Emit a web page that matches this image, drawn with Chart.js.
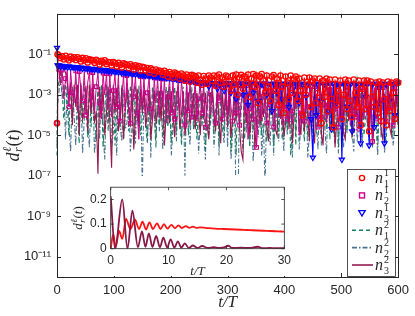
<!DOCTYPE html>
<html><head><meta charset="utf-8">
<script src="https://cdn.jsdelivr.net/npm/chart.js@4.4.1/dist/chart.umd.min.js"></script>
<style>
html,body{margin:0;padding:0;background:#fff;}
#wrap{position:relative;width:415px;height:316px;overflow:hidden;}
#main{position:absolute;left:0;top:0;}
#inset{position:absolute;left:66px;top:176px;}
</style></head><body>
<div id="wrap"><canvas id="main" width="415" height="316"></canvas><canvas id="inset" width="230" height="100"></canvas></div>
<script>
// ---------- DATA ----------
const times = [0,1,
 3,6,9,12,15,18,21,24,27,30,
 33,36,39,42,45,48,51,54,57,60,
 63,66,69,72,75,78,81,84,87,90,
 93,96,99,102,105,108,111,114,117,120,
 123,126,129,132,135,138,141,144,147,150,
 153,156,159,162,165,168,171,174,177,180,
 183,186,189,192,195,198,201,204,207,210,
 213,216,219,222,225,228,231,234,237,240,
 243,246,249,252,255,258,261,264,267,270,
 273,276,279,282,285,288,291,294,297,300,
 303,306,309,312,315,318,321,324,327,330,
 333,336,339,342,345,348,351,354,357,360,
 363,366,369,372,375,378,381,384,387,390,
 393,396,399,402,405,408,411,414,417,420,
 423,426,429,432,435,438,441,444,447,450,
 453,456,459,462,465,468,471,474,477,480,
 483,486,489,492,495,498,501,504,507,510,
 513,516,519,522,525,528,531,534,537,540,
 543,546,549,552,555,558,561,564,567,570,
 573,576,579,582,585,588,591,594,597,600];

// log10 of each series value at the times above
const n11Exp = [-4.4,-1.0,
 -1.05,-1.18,-1.1,-1.25,-1.08,-1.2,-1.3,-1.12,-1.22,-1.15,
 -1.28,-1.15,-1.22,-1.35,-1.18,-1.3,-1.2,-1.4,-1.25,-1.28,
 -1.3,-1.42,-1.27,-1.35,-1.5,-1.32,-1.4,-1.3,-1.48,-1.38,
 -1.4,-1.55,-1.38,-1.45,-1.6,-1.42,-1.52,-1.65,-1.45,-1.5,
 -1.52,-1.68,-1.5,-1.6,-1.75,-1.55,-1.65,-1.58,-1.8,-1.62,
 -1.65,-1.8,-1.68,-1.9,-1.7,-1.78,-1.95,-1.75,-1.85,-1.8,
 -1.85,-2.0,-1.82,-1.92,-2.1,-1.88,-1.98,-2.15,-1.9,-1.95,
 -2.0,-2.2,-1.95,-2.05,-2.3,-2.0,-2.12,-2.35,-2.02,-2.05,
 -2.1,-2.4,-2.05,-2.25,-2.5,-2.08,-2.2,-2.45,-2.05,-2.15,
 -2.3,-2.05,-2.55,-2.1,-2.0,-2.4,-2.15,-2.6,-2.05,-2.1,
 -2.35,-2.8,-2.05,-2.5,-2.0,-3.0,-2.15,-2.02,-2.7,-2.1,
 -2.4,-2.0,-3.1,-2.2,-1.98,-2.6,-2.05,-3.4,-2.1,-1.98,
 -2.3,-2.9,-2.05,-2.6,-3.3,-2.1,-2.03,-2.8,-2.2,-3.5,
 -2.05,-2.6,-3.9,-2.1,-2.4,-3.2,-2.05,-2.9,-2.2,-2.1,
 -3.3,-2.2,-2.8,-4.0,-2.15,-3.0,-2.5,-2.15,-3.6,-2.3,
 -2.2,-3.4,-2.9,-2.2,-4.4,-2.3,-3.1,-2.2,-3.8,-2.25,
 -3.2,-4.6,-2.25,-3.5,-2.8,-2.3,-4.2,-3.0,-2.25,-3.7,
 -2.3,-3.3,-4.1,-2.25,-2.9,-3.6,-2.3,-4.5,-2.7,-2.3,
 -3.7,-2.3,-4.8,-2.35,-3.1,-3.6,-2.4,-3.9,-2.35,-4.3,
 -2.4,-3.2,-4.5,-2.35,-3.8,-2.4,-2.9,-4.2,-2.35,-2.4];
const n21Exp = [-4.4,-1.8,
 -1.75,-2.5,-1.78,-3.2,-2.2,-1.8,-3.6,-1.82,-2.9,-3.4,
 -1.82,-3.8,-1.85,-2.7,-3.3,-1.86,-4.0,-2.4,-1.88,-3.5,
 -1.9,-3.9,-2.6,-1.92,-3.4,-4.2,-1.93,-3.0,-1.95,-3.7,
 -1.97,-4.1,-2.8,-1.98,-3.6,-2.0,-4.3,-3.2,-2.02,-3.8,
 -2.05,-3.5,-4.4,-2.06,-3.1,-2.08,-3.9,-5.2,-2.1,-3.6,
 -2.12,-4.0,-2.9,-2.14,-3.7,-4.3,-2.16,-3.4,-2.18,-4.1,
 -2.2,-3.6,-2.22,-4.4,-3.1,-2.24,-3.9,-2.26,-4.2,-3.5,
 -2.28,-4.0,-2.3,-3.3,-4.5,-2.32,-3.8,-2.35,-4.1,-3.6,
 -2.38,-4.3,-3.2,-2.4,-3.9,-2.42,-4.6,-3.5,-2.44,-4.0,
 -2.46,-3.7,-4.4,-2.48,-3.3,-2.5,-4.2,-3.8,-2.5,-4.1,
 -2.52,-3.6,-4.3,-2.52,-3.9,-2.55,-4.5,-3.4,-2.54,-4.0,
 -2.55,-5.2,-3.7,-2.55,-4.2,-2.56,-5.6,-3.9,-2.56,-4.3,
 -2.56,-3.8,-4.4,-2.57,-3.5,-2.57,-4.6,-3.9,-2.58,-4.1,
 -2.58,-4.5,-3.6,-2.58,-4.2,-2.6,-3.8,-4.4,-2.6,-3.7,
 -2.6,-5.0,-3.9,-2.6,-4.3,-2.6,-3.6,-4.5,-2.6,-4.0,
 -2.6,-3.8,-4.6,-2.6,-4.1,-2.62,-3.5,-4.4,-2.62,-3.9,
 -2.62,-4.3,-3.7,-2.62,-4.6,-2.62,-3.9,-4.2,-2.63,-3.6,
 -2.63,-4.5,-3.8,-2.63,-4.1,-2.63,-4.7,-3.6,-2.64,-4.2,
 -2.64,-4.0,-3.7,-2.64,-5.3,-2.64,-4.2,-3.8,-2.65,-4.4,
 -2.65,-3.9,-4.3,-2.65,-3.7,-2.65,-4.5,-3.6,-2.66,-3.5];
const n31Exp = [-0.68,-1.55,
 -1.55,-1.6,-1.57,-1.62,-1.59,-1.63,-1.6,-1.65,-1.62,-1.64,
 -1.65,-1.63,-1.68,-1.66,-1.7,-1.67,-1.71,-1.69,-1.73,-1.72,
 -1.73,-1.75,-1.72,-1.77,-1.75,-1.79,-1.77,-1.8,-1.78,-1.82,
 -1.82,-1.84,-1.82,-1.86,-1.84,-1.88,-1.86,-1.9,-1.88,-1.92,
 -1.92,-1.94,-1.92,-1.96,-1.95,-1.98,-1.96,-2.0,-1.99,-2.02,
 -2.02,-2.04,-2.02,-2.06,-2.05,-2.08,-2.06,-2.1,-2.08,-2.12,
 -2.12,-2.14,-2.12,-2.16,-2.15,-2.18,-2.17,-2.2,-2.19,-2.22,
 -2.22,-2.25,-2.23,-2.27,-2.26,-2.3,-2.28,-2.32,-2.31,-2.34,
 -2.35,-2.38,-2.36,-2.5,-2.38,-2.41,-2.4,-2.43,-2.6,-2.42,
 -2.43,-2.45,-2.42,-2.7,-2.44,-2.46,-2.43,-2.8,-2.45,-2.44,
 -2.45,-2.9,-2.42,-2.47,-3.2,-2.45,-2.48,-2.44,-3.0,-2.46,
 -2.45,-3.5,-2.48,-2.44,-2.9,-2.46,-2.5,-3.3,-2.45,-2.47,
 -2.5,-2.44,-3.0,-2.48,-2.46,-3.8,-2.45,-2.5,-2.9,-2.47,
 -2.46,-3.2,-2.5,-2.45,-2.48,-3.6,-2.47,-2.45,-2.95,-2.48,
 -2.5,-3.4,-2.45,-2.5,-2.47,-3.1,-2.46,-2.5,-4.2,-6.1,
 -2.48,-4.0,-2.5,-2.45,-3.3,-2.47,-2.5,-2.46,-3.8,-2.48,
 -4.7,-2.45,-3.5,-2.48,-2.46,-2.5,-6.2,-2.47,-2.45,-3.6,
 -2.48,-2.5,-4.8,-2.45,-2.47,-3.2,-2.5,-5.4,-2.46,-2.48,
 -3.1,-2.47,-5.5,-2.46,-2.5,-4.6,-2.45,-2.48,-3.4,-2.47,
 -2.45,-5.4,-2.5,-2.46,-3.3,-2.45,-2.47,-4.0,-2.44,-2.4];
const n12Exp = [-6.0,-2.8,
 -2.4,-1.7,-2.8,-4.2,-2.3,-3.5,-5.0,-2.35,-4.0,-2.9,
 -2.38,-3.8,-5.4,-2.4,-4.4,-2.4,-3.6,-5.1,-2.42,-4.6,
 -2.45,-3.9,-5.3,-2.45,-4.2,-2.48,-5.6,-3.7,-2.48,-4.8,
 -2.5,-4.1,-2.5,-5.5,-3.8,-2.5,-4.6,-2.52,-5.2,-3.9,
 -2.52,-4.8,-2.53,-3.7,-5.5,-2.54,-4.3,-2.55,-5.0,-4.1,
 -2.55,-3.8,-5.3,-2.56,-4.4,-2.57,-3.9,-5.6,-2.58,-4.5,
 -2.58,-5.1,-3.8,-2.6,-4.6,-2.6,-5.4,-4.0,-2.6,-4.8,
 -2.6,-3.9,-5.5,-2.6,-4.3,-2.6,-5.0,-3.8,-2.62,-4.7,
 -2.62,-5.2,-4.0,-2.62,-4.6,-2.62,-5.7,-3.9,-2.63,-4.4,
 -2.63,-4.9,-3.8,-2.64,-5.4,-2.64,-4.2,-5.0,-2.65,-4.0,
 -2.6,-5.8,-4.1,-2.6,-6.0,-2.62,-4.5,-3.8,-2.62,-5.2,
 -2.62,-4.2,-5.6,-2.63,-4.8,-2.63,-4.4,-3.9,-2.64,-5.0,
 -2.64,-4.6,-5.3,-2.64,-4.0,-2.64,-5.6,-4.3,-2.65,-4.9,
 -2.65,-5.2,-4.1,-2.65,-4.7,-2.65,-6.0,-4.4,-2.6,-5.5,
 -2.2,-4.6,-2.6,-3.9,-5.3,-2.62,-5.1,-4.2,-2.63,-3.8,
 -2.63,-4.9,-4.3,-2.64,-5.0,-2.64,-3.9,-4.7,-2.64,-5.2,
 -2.64,-4.9,-4.1,-2.64,-5.6,-2.64,-5.4,-4.3,-2.65,-4.8,
 -2.65,-4.5,-5.1,-2.65,-4.0,-2.2,-2.6,-4.6,-2.65,-5.0,
 -4.0,-2.65,-2.2,-2.6,-5.2,-4.4,-2.65,-5.5,-2.65,-4.3,
 -2.65,-4.8,-5.4,-2.65,-4.2,-2.65,-4.9,-4.4,-2.66,-4.2];
const n22Exp = [-5.5,-3.5,
 -3.0,-2.0,-3.2,-2.5,-5.2,-2.6,-4.5,-5.8,-2.6,-4.0,
 -5.5,-2.6,-4.8,-2.65,-5.9,-4.2,-2.7,-4.3,-5.6,-2.7,
 -2.7,-5.9,-4.6,-2.7,-5.2,-2.72,-4.8,-6.2,-2.72,-4.4,
 -2.72,-5.6,-4.9,-2.74,-6.0,-2.74,-4.5,-5.3,-2.75,-4.7,
 -4.4,-2.75,-5.8,-4.6,-2.75,-5.4,-2.76,-4.9,-2.76,-7.5,
 -2.77,-4.6,-5.4,-2.77,-6.1,-2.78,-4.0,-5.2,-2.78,-4.8,
 -2.78,-5.7,-4.3,-2.78,-4.5,-2.8,-6.0,-4.7,-2.8,-5.3,
 -2.8,-4.2,-5.2,-2.8,-7.0,-2.8,-4.6,-5.5,-2.8,-4.4,
 -4.6,-2.8,-5.9,-4.3,-2.8,-4.8,-6.2,-2.8,-5.0,-4.4,
 -2.8,-5.6,-4.5,-2.8,-6.0,-2.8,-4.7,-5.4,-2.8,-5.6,
 -2.8,-6.2,-4.8,-2.8,-8.6,-9.4,-2.8,-4.5,-5.8,-2.8,
 -4.9,-2.8,-5.4,-2.75,-6.3,-4.6,-2.8,-5.1,-2.8,-6.0,
 -4.4,-7.6,-2.8,-4.7,-5.5,-2.75,-6.0,-2.8,-4.6,-5.3,
 -2.75,-4.4,-5.8,-2.8,-5.0,-2.8,-4.6,-6.1,-2.8,-4.9,
 -2.3,-5.7,-4.4,-2.8,-4.8,-2.75,-6.1,-4.9,-2.8,-5.3,
 -2.8,-4.3,-5.7,-2.8,-5.5,-2.8,-4.6,-5.9,-2.8,-4.5,
 -2.75,-4.6,-5.4,-2.8,-5.9,-2.75,-4.7,-5.6,-2.8,-4.9,
 -2.3,-2.8,-4.9,-5.8,-2.8,-5.3,-4.4,-2.8,-5.6,-2.8,
 -2.3,-4.7,-5.2,-2.8,-5.6,-2.75,-4.4,-6.0,-2.8,-5.1,
 -2.8,-5.9,-4.7,-2.8,-4.6,-2.8,-5.5,-4.8,-2.8,-4.6];
const n32Exp = [-0.68,-1.3,
 -1.8,-2.0,-1.5,-1.7,-1.9,-2.4,-3.2,-2.4,-4.5,-2.5,
 -3.6,-2.5,-5.0,-2.5,-4.2,-3.8,-2.55,-4.8,-2.55,-3.9,
 -2.55,-4.4,-3.8,-6.9,-2.6,-4.2,-2.6,-5.0,-3.9,-2.6,
 -4.4,-6.6,-2.62,-3.9,-2.65,-4.8,-4.1,-2.65,-5.2,-3.8,
 -2.65,-3.7,-4.6,-2.7,-5.7,-4.1,-2.7,-4.6,-2.72,-3.9,
 -2.75,-4.6,-3.8,-2.75,-5.2,-4.2,-2.78,-4.4,-3.9,-2.8,
 -4.3,-2.8,-5.5,-3.9,-2.8,-4.4,-2.82,-4.0,-5.1,-2.85,
 -2.85,-4.7,-3.9,-2.85,-5.0,-4.2,-2.88,-4.5,-3.8,-2.9,
 -4.7,-2.9,-3.9,-5.0,-2.9,-4.2,-2.9,-4.5,-5.2,-2.9,
 -2.9,-4.0,-4.8,-2.9,-4.3,-5.4,-2.9,-4.1,-2.9,-4.6,
 -2.9,-5.1,-4.2,-2.9,-4.3,-2.9,-4.6,-5.8,-6.2,-2.9,
 -4.4,-2.9,-5.0,-4.1,-2.9,-5.7,-4.3,-2.95,-4.6,-2.95,
 -4.1,-2.9,-4.6,-5.3,-2.95,-4.0,-2.9,-4.7,-5.0,-2.95,
 -4.2,-2.95,-5.1,-4.4,-2.9,-4.7,-2.95,-5.4,-4.0,-2.9,
 -2.9,-4.3,-5.0,-2.95,-4.8,-2.9,-4.1,-5.3,-2.95,-4.5,
 -5.4,-2.95,-4.4,-2.9,-4.9,-5.5,-2.95,-4.2,-2.9,-4.7,
 -4.6,-2.95,-5.6,-4.3,-2.9,-4.2,-2.95,-4.9,-5.2,-2.9,
 -4.3,-2.95,-5.0,-4.6,-2.95,-4.4,-2.9,-5.3,-4.1,-2.95,
 -2.95,-4.4,-5.1,-2.9,-5.5,-4.3,-2.95,-4.1,-2.9,-4.8,
 -5.2,-2.95,-4.5,-2.9,-4.6,-5.0,-2.95,-4.3,-2.95,-4.5];

const xTicks = [0,100,200,300,400,500,600];
const yTickExps = [-1,-3,-5,-7,-9,-11];
const yTickLabels = ['10\u207B\u00B9','10\u207B\u00B3','10\u207B\u2075','10\u207B\u2077','10\u207B\u2079','10\u207B\u00B9\u00B9'];
const legendSup = ['1','1','1','2','2','2'];
const legendSub = ['1','2','3','1','2','3'];

// inset data (t/T, value)
const insetRedT = [0,0.45,0.85,1.45,2.0,2.65,3.4,4.2,4.9,5.5,6.1,6.7,7.3,8.0,8.6,9.2,9.8,10.5,11.1,11.7,12.3,13.0,13.6,14.2,14.8,15.5,16.5,17.5,18.5,19.5,20.5,21.5,22.5,23.5,24.5,25.5,26.5,27.5,28.5,29.5,30];
const insetRedV = [0,0.059,0.005,0.072,0.04,0.121,0.08,0.118,0.08,0.11,0.078,0.107,0.08,0.103,0.08,0.1,0.082,0.097,0.083,0.095,0.084,0.092,0.085,0.09,0.085,0.087,0.084,0.083,0.081,0.08,0.079,0.078,0.077,0.076,0.075,0.074,0.073,0.072,0.071,0.07,0.069];
const insetMarT = [0,0.75,2.0,2.9,3.75,4.7,5.4,6.0,6.6,7.2,7.85,8.5,9.1,9.75,10.35,11.0,11.6,12.2,12.8,13.5,14.2,15.0,15.8,16.8,17.8,18.8,19.6,20.3,21.0,22.5,24.0,25.4,26.3,27.5,28.5,30];
const insetMarV = [0.213,0.0,0.2,0.0,0.155,0.006,0.07,0.008,0.062,0.007,0.052,0.006,0.045,0.005,0.038,0.004,0.03,0.004,0.022,0.003,0.013,0.003,0.011,0.003,0.006,0.003,0.005,0.012,0.003,0.004,0.003,0.008,0.002,0.003,0.002,0.002];
const insetXTicks = [0,10,20,30];
const insetYTicks = [0,0.1,0.2];

// ---------- STYLE ----------
const AX = '#262626';
const SANS = '"Liberation Sans", Arial, sans-serif';
const SERIF = '"Liberation Serif", "Times New Roman", serif';
const C_RED = '#ff0000', C_MAG = '#cc0088', C_BLUE = '#0000ff', C_GREEN = '#14805a', C_TEAL = '#4a7390', C_MAR = '#931a4e';

function pts(exps){ return times.map((t,i)=>({x:t, y:Math.pow(10, exps[i])})); }
function pts2(ts, vs){ return ts.map((t,i)=>({x:t, y:vs[i]})); }
const everyOther = r => (c => (c.dataIndex % 2 === 0 ? r : 0));

function drawDTitle(ctx, cx, cy, s){
  ctx.save();
  ctx.translate(cx, cy); ctx.rotate(-Math.PI/2);
  ctx.fillStyle = AX; ctx.textBaseline = 'alphabetic'; ctx.textAlign = 'left';
  const big = 'italic ' + s + 'px ' + SERIF, small = 'italic ' + Math.round(s*0.68) + 'px ' + SERIF, up = s + 'px ' + SERIF;
  ctx.font = big; const wd = ctx.measureText('d').width, wt = ctx.measureText('t').width;
  ctx.font = small; const wl = ctx.measureText('\u2113').width, wr = ctx.measureText('r').width;
  ctx.font = up; const wp = ctx.measureText('(').width;
  const ws = Math.max(wl, wr) + 1;
  const total = wd + ws + wp*2 + wt;
  let x = -total/2; const b = s*0.32;
  ctx.font = big; ctx.fillText('d', x, b); x += wd + 0.5;
  ctx.font = small; ctx.fillText('\u2113', x, b - s*0.42); ctx.fillText('r', x, b + s*0.2); x += ws - 0.5;
  ctx.font = up; ctx.fillText('(', x, b); x += wp;
  ctx.font = big; ctx.fillText('t', x, b); x += wt;
  ctx.font = up; ctx.fillText(')', x, b);
  ctx.restore();
}
function drawTT(ctx, cx, cy, s){
  ctx.save(); ctx.fillStyle = AX; ctx.font = 'italic ' + s + 'px ' + SERIF;
  ctx.textAlign = 'center'; ctx.textBaseline = 'middle';
  ctx.fillText('t/T', cx, cy); ctx.restore();
}

function drawLegend(ctx){
  const bx = 347, by = 169, bw = 48, bh = 107;
  ctx.save();
  ctx.fillStyle = '#fff'; ctx.fillRect(bx, by, bw, bh);
  ctx.strokeStyle = AX; ctx.lineWidth = 0.8; ctx.strokeRect(bx + 0.5, by + 0.5, bw, bh);
  const mx = 362;
  for (let i = 0; i < 6; i++){
    const cy = 178 + i*17.4;
    ctx.setLineDash([]);
    if (i === 0){ ctx.strokeStyle = C_RED; ctx.lineWidth = 1.4; ctx.beginPath(); ctx.arc(mx, cy, 2.6, 0, Math.PI*2); ctx.stroke(); }
    if (i === 1){ ctx.strokeStyle = C_MAG; ctx.lineWidth = 1.4; ctx.strokeRect(mx - 2.5, cy - 2.5, 5, 5); }
    if (i === 2){ ctx.strokeStyle = C_BLUE; ctx.lineWidth = 1.4; ctx.beginPath(); ctx.moveTo(mx - 3.2, cy - 2.2); ctx.lineTo(mx + 3.2, cy - 2.2); ctx.lineTo(mx, cy + 3.2); ctx.closePath(); ctx.stroke(); }
    if (i >= 3){
      const col = [C_GREEN, C_TEAL, C_MAR][i-3];
      const dash = [[4,3],[5,2,1.5,2],[]][i-3];
      ctx.strokeStyle = col; ctx.lineWidth = 1.6; ctx.setLineDash(dash);
      ctx.beginPath(); ctx.moveTo(352, cy); ctx.lineTo(373, cy); ctx.stroke();
    }
    ctx.setLineDash([]);
    ctx.fillStyle = AX; ctx.textAlign = 'left'; ctx.textBaseline = 'alphabetic';
    ctx.font = 'italic 16px ' + SERIF; ctx.fillText('n', 375, cy + 5);
    ctx.font = '10px ' + SERIF;
    ctx.fillText(legendSup[i], 384, cy - 2);
    ctx.fillText(legendSub[i], 384, cy + 9);
  }
  ctx.restore();
}

const mainFrame = {
  id: 'mainFrame',
  afterDraw(chart){
    const {ctx, chartArea:{left, right, top, bottom}, scales:{x, y}} = chart;
    ctx.save();
    ctx.strokeStyle = AX; ctx.lineWidth = 1;
    ctx.strokeRect(Math.round(left) + 0.5, Math.round(top) + 0.5, Math.round(right - left), Math.round(bottom - top));
    ctx.beginPath();
    xTicks.forEach(v => { const px = Math.round(x.getPixelForValue(v)) + 0.5; ctx.moveTo(px, bottom); ctx.lineTo(px, bottom - 4); ctx.moveTo(px, top); ctx.lineTo(px, top + 4); });
    yTickExps.forEach(e => { const py = Math.round(y.getPixelForValue(Math.pow(10, e))) + 0.5; ctx.moveTo(left, py); ctx.lineTo(left + 4, py); ctx.moveTo(right, py); ctx.lineTo(right - 4, py); });
    ctx.stroke();
    ctx.restore();
    drawTT(ctx, (left + right)/2, 303, 17);
    drawDTitle(ctx, 13, (top + bottom)/2, 18);
    drawLegend(ctx);
  }
};

const mainChart = new Chart(document.getElementById('main'), {
  type: 'line',
  data: { datasets: [
    { label: 'n11', data: pts(n11Exp), borderColor: C_RED, borderWidth: 1.2, pointStyle: 'circle', pointRadius: 2.7, pointBorderWidth: 1.3, pointBorderColor: C_RED, pointBackgroundColor: 'rgba(0,0,0,0)', order: 0, clip: 5 },
    { label: 'n21', data: pts(n21Exp), borderColor: C_MAG, borderWidth: 1, pointStyle: 'rect', pointRadius: everyOther(2.6), pointBorderWidth: 1.1, pointBorderColor: C_MAG, pointBackgroundColor: 'rgba(0,0,0,0)', order: 2, clip: 5 },
    { label: 'n31', data: pts(n31Exp), borderColor: C_BLUE, borderWidth: 1.1, pointStyle: 'triangle', pointRotation: 180, pointRadius: 3, pointBorderWidth: 1.2, pointBorderColor: C_BLUE, pointBackgroundColor: 'rgba(0,0,0,0)', order: 1, clip: 5 },
    { label: 'n12', data: pts(n12Exp), borderColor: C_GREEN, borderWidth: 1.1, borderDash: [4,3], pointRadius: 0, order: 4, clip: 5 },
    { label: 'n22', data: pts(n22Exp), borderColor: C_TEAL, borderWidth: 1.1, borderDash: [5,2,1.5,2], pointRadius: 0, order: 5, clip: 5 },
    { label: 'n32', data: pts(n32Exp), borderColor: C_MAR, borderWidth: 1.1, pointRadius: 0, order: 3, clip: 5 }
  ]},
  options: {
    responsive: false, animation: false, devicePixelRatio: 1,
    layout: { padding: { top: 8, right: 16, left: 0, bottom: 0 } },
    plugins: { legend: { display: false }, tooltip: { enabled: false } },
    elements: { line: { tension: 0 } },
    scales: {
      x: { type: 'linear', min: 0, max: 600,
        afterBuildTicks: s => { s.ticks = xTicks.map(v => ({ value: v })); },
        ticks: { padding: 6, color: AX, maxRotation: 0, font: { family: SANS, size: 13 } },
        grid: { display: false, drawTicks: false }, border: { display: false },
        afterFit: s => { s.height = 39; } },
      y: { type: 'logarithmic', min: 1e-12, max: 10,
        afterBuildTicks: s => { s.ticks = yTickExps.map(e => ({ value: Math.pow(10, e) })); },
        ticks: { padding: 6, color: AX, font: { family: SANS, size: 13 },
          callback: v => { const k = yTickExps.indexOf(Math.round(Math.log10(v))); return k >= 0 ? yTickLabels[k] : ''; } },
        grid: { display: false, drawTicks: false }, border: { display: false },
        afterFit: s => { s.width = 57; } }
    }
  },
  plugins: [mainFrame]
});

const insetFrame = {
  id: 'insetFrame',
  beforeDraw(chart){ const c = chart.ctx; c.save(); c.fillStyle = '#fff'; c.fillRect(0, 0, chart.width, chart.height); c.restore(); },
  afterDraw(chart){
    const {ctx, chartArea:{left, right, top, bottom}, scales:{x, y}} = chart;
    ctx.save();
    ctx.strokeStyle = AX; ctx.lineWidth = 0.8;
    ctx.strokeRect(left, top, right - left, bottom - top);
    ctx.beginPath();
    insetXTicks.forEach(v => { const px = x.getPixelForValue(v); ctx.moveTo(px, bottom); ctx.lineTo(px, bottom - 3); ctx.moveTo(px, top); ctx.lineTo(px, top + 3); });
    insetYTicks.forEach(v => { const py = y.getPixelForValue(v); ctx.moveTo(left, py); ctx.lineTo(left + 3, py); ctx.moveTo(right, py); ctx.lineTo(right - 3, py); });
    ctx.stroke();
    ctx.restore();
    drawTT(ctx, (left + right)/2, 95.5, 13);
    drawDTitle(ctx, 12, (top + bottom)/2, 13);
  }
};

new Chart(document.getElementById('inset'), {
  type: 'line',
  data: { datasets: [
    { data: pts2(insetRedT, insetRedV), borderColor: '#ff1414', borderWidth: 1.8, pointRadius: 0, cubicInterpolationMode: 'monotone', order: 1 },
    { data: pts2(insetMarT, insetMarV), borderColor: '#861848', borderWidth: 1.8, pointRadius: 0, cubicInterpolationMode: 'monotone', order: 0 }
  ]},
  options: {
    responsive: false, animation: false, devicePixelRatio: 1,
    layout: { padding: { top: 6.7, right: 9.3, left: 0, bottom: 0 } },
    plugins: { legend: { display: false }, tooltip: { enabled: false } },
    scales: {
      x: { type: 'linear', min: 0, max: 30,
        afterBuildTicks: s => { s.ticks = insetXTicks.map(v => ({ value: v })); },
        ticks: { padding: 5, color: AX, maxRotation: 0, font: { family: SANS, size: 12 } },
        grid: { display: false, drawTicks: false }, border: { display: false },
        afterFit: s => { s.height = 27.3; } },
      y: { type: 'linear', min: 0, max: 0.25,
        afterBuildTicks: s => { s.ticks = insetYTicks.map(v => ({ value: v })); },
        ticks: { padding: 4, color: AX, font: { family: SANS, size: 12 }, callback: v => v === 0 ? '0' : v.toFixed(1) },
        grid: { display: false, drawTicks: false }, border: { display: false },
        afterFit: s => { s.width = 44.7; } }
    }
  },
  plugins: [insetFrame]
});
</script></body></html>
